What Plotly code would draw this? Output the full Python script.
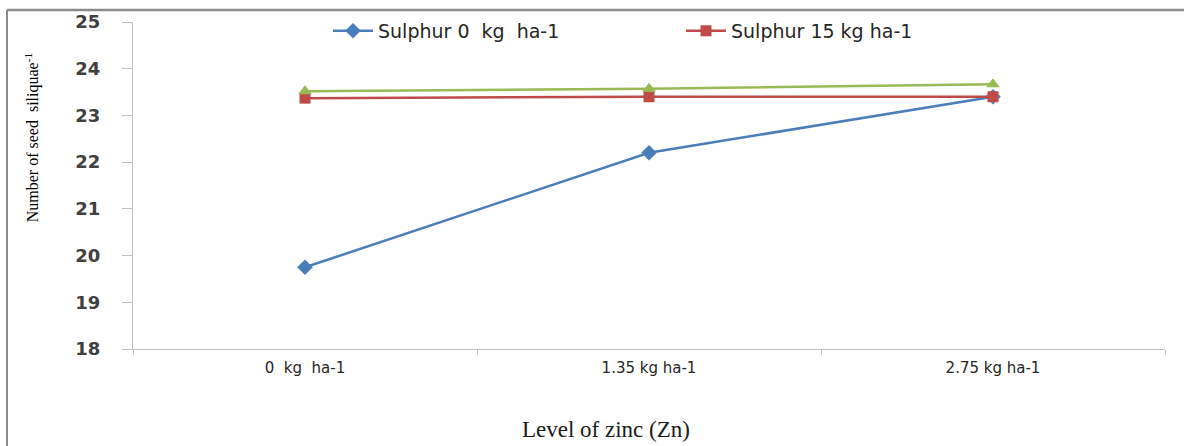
import plotly.graph_objects as go

categories = ["0\u00a0 kg\u00a0 ha-1", "1.35 kg ha-1", "2.75 kg ha-1"]
sulphur_0 = [19.75, 22.2, 23.4]
sulphur_15 = [23.37, 23.4, 23.4]
sulphur_30 = [23.52, 23.57, 23.67]
y_ticks = [18, 19, 20, 21, 22, 23, 24, 25]

fig = go.Figure()
fig.add_trace(go.Scatter(x=categories, y=sulphur_0, mode="lines+markers",
                         name="Sulphur 0\u00a0 kg\u00a0 ha-1",
                         line=dict(color="#4a7ebb", width=2.5),
                         marker=dict(symbol="diamond", size=12, color="#4a7ebb")))
fig.add_trace(go.Scatter(x=categories, y=sulphur_15, mode="lines+markers",
                         name="Sulphur 15 kg ha-1",
                         line=dict(color="#be4b48", width=2.5),
                         marker=dict(symbol="square", size=11, color="#be4b48")))
fig.add_trace(go.Scatter(x=categories, y=sulphur_30, mode="lines+markers",
                         name="Sulphur 30 kg ha-1", showlegend=False,
                         line=dict(color="#98b954", width=2.5),
                         marker=dict(symbol="triangle-up", size=12, color="#98b954")))

W, H = 1184, 446
l, r, t, b = 133, 19, 20, 97
pw, ph = W - l - r, H - t - b

def px(xp):
    return (xp - l) / pw

def py(yp):
    return (H - b - yp) / ph

fig.update_layout(
    width=W, height=H,
    margin=dict(l=l, r=r, t=t, b=b),
    paper_bgcolor="white", plot_bgcolor="white",
    showlegend=True,
    legend=dict(orientation="h", x=px(328), y=py(29), xanchor="left", yanchor="middle",
                font=dict(family="DejaVu Sans", size=19, color="#262626"),
                entrywidth=298, entrywidthmode="pixels", itemwidth=40,
                bgcolor="rgba(0,0,0,0)"),
    xaxis=dict(range=[-0.5, 2.5], showline=True, linecolor="#bfbfbf", linewidth=1, showgrid=False,
               ticks="outside", ticklen=5, tickcolor="#bfbfbf", tickson="boundaries",
               ticklabelstandoff=5,
               tickfont=dict(family="DejaVu Sans", size=15, color="#262626"),
               zeroline=False),
    yaxis=dict(range=[18, 25], tickvals=y_ticks, showline=True, linecolor="#bfbfbf",
               linewidth=1, showgrid=False, ticks="outside", ticklen=10,
               tickcolor="#bfbfbf", ticklabelstandoff=18,
               tickfont=dict(family="DejaVu Sans", size=18, color="#404040", weight="bold"),
               zeroline=False),
    annotations=[
        dict(text="Number of seed  siliquae<sup>-1</sup>", x=px(32), y=py(137),
             xref="paper", yref="paper", showarrow=False, textangle=-90,
             font=dict(family="Liberation Serif", size=16, color="#000000"),
             xanchor="center", yanchor="middle"),
        dict(text="Level of zinc (Zn)", x=px(606), y=py(430),
             xref="paper", yref="paper", showarrow=False,
             font=dict(family="Liberation Serif", size=23, color="#1a1a1a"),
             xanchor="center", yanchor="middle"),
    ],
    shapes=[
        dict(type="line", xref="paper", yref="paper", x0=px(7), x1=px(W), y0=py(8), y1=py(8),
             line=dict(color="#8c8c8c", width=2.5)),
        dict(type="line", xref="paper", yref="paper", x0=px(7), x1=px(7), y0=py(8), y1=py(H + 5),
             line=dict(color="#8c8c8c", width=2)),
    ],
)

fig.write_html("out.html")
